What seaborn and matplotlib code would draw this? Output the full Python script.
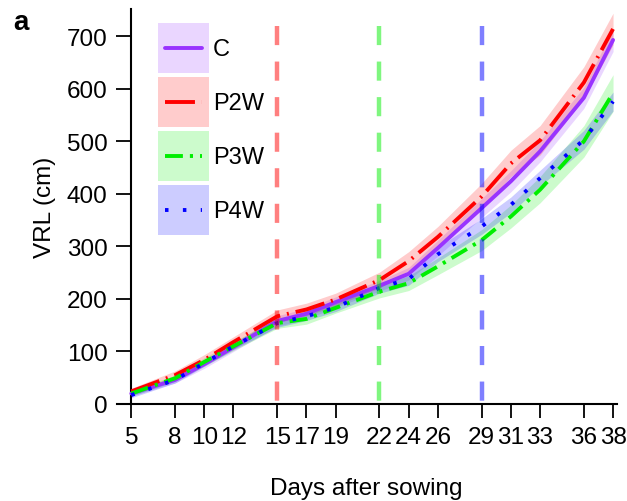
import numpy as np
import pandas as pd
import matplotlib
matplotlib.use("Agg")
import matplotlib.pyplot as plt
from matplotlib.patches import Patch
from matplotlib.lines import Line2D
from matplotlib.legend_handler import HandlerLine2D
import seaborn as sns

# ---------------- data ----------------
days = [5, 8, 10, 12, 15, 17, 19, 22, 24, 26, 29, 31, 33, 36, 38]
vrl_C = [20, 46, 76, 108, 158, 172, 194, 225, 248, 297, 373, 424, 481, 583, 693]
vrl_P2W = [24, 55, 84, 118, 167, 180, 199, 236, 272, 318, 395, 458, 502, 612, 714]
vrl_P3W = [20, 49, 80, 110, 154, 162, 183, 214, 230, 262, 312, 357, 408, 500, 592]
vrl_P4W = [17, 46, 78, 110, 154, 167, 184, 221, 238, 285, 338, 379, 430, 503, 576]

err_C = [5, 6, 8, 8, 10, 10, 10, 10, 12, 15, 18, 20, 20, 20, 22]
err_P2W = [6, 8, 10, 10, 12, 12, 12, 15, 18, 20, 25, 25, 28, 30, 30]
err_P3W = [5, 6, 8, 8, 10, 10, 10, 12, 14, 16, 20, 22, 25, 30, 35]
err_P4W = [5, 6, 6, 6, 8, 8, 8, 10, 12, 14, 15, 15, 15, 18, 18]

treatments = ["C", "P2W", "P3W", "P4W"]
xticks = [5, 8, 10, 12, 15, 17, 19, 22, 24, 26, 29, 31, 33, 36, 38]
yticks = [0, 100, 200, 300, 400, 500, 600, 700]
event_days = [15, 22, 29]

colors = {"C": "#9933FF", "P2W": "#FF0000", "P3W": "#00EE00", "P4W": "#0000FF"}
event_colors = ["#FF0000", "#00EE00", "#0000FF"]
dash_map = {"C": "", "P2W": (7.7, 1.8, 0.5, 1.8), "P3W": (4.6, 1.8, 0.8, 1.8),
            "P4W": (0.9, 3.7)}

values = {"C": vrl_C, "P2W": vrl_P2W, "P3W": vrl_P3W, "P4W": vrl_P4W}
errors = {"C": err_C, "P2W": err_P2W, "P3W": err_P3W, "P4W": err_P4W}

rows = []
for t in treatments:
    for d, v in zip(days, values[t]):
        rows.append({"day": d, "VRL": v, "treatment": t})
df = pd.DataFrame(rows)

# ---------------- style ----------------
sns.set_style("ticks")
plt.rcParams["font.family"] = ["Liberation Sans", "DejaVu Sans"]
plt.rcParams["axes.linewidth"] = 1.5
for k in ["text.color", "axes.labelcolor", "xtick.color", "ytick.color", "axes.edgecolor"]:
    plt.rcParams[k] = "black"

fig = plt.figure(figsize=(6.27, 5.02), dpi=100)
ax = fig.add_axes([116.7 / 627, 1 - 405 / 502, 500 / 627, 395 / 502])

LW = 2.8
FS = 17.5
# bands
for t in treatments:
    v = np.array(values[t], dtype=float)
    e = np.array(errors[t], dtype=float)
    ax.fill_between(days, v - e, v + e, color=colors[t], alpha=0.2, lw=0, zorder=1)

sns.lineplot(data=df, x="day", y="VRL", hue="treatment", style="treatment",
             palette=colors, dashes=dash_map, hue_order=treatments,
             style_order=treatments, errorbar=None, linewidth=LW,
             legend=False, ax=ax, zorder=3)

# event vertical lines
for d, c in zip(event_days, event_colors):
    ax.vlines(d, 720, 0, colors=c, alpha=0.5, linewidth=3.2,
              linestyles=(0, (4.3, 3.7)), zorder=4)

ax.set_xlim(4.0, 38.25)
ax.set_ylim(0, 752)
ax.spines["left"].set_position(("data", 5))
ax.spines["right"].set_visible(False)
ax.spines["top"].set_visible(False)
ax.set_xticks(xticks)
ax.set_xticklabels([str(x) for x in xticks])
ax.set_yticks(yticks)
ax.tick_params(axis="x", direction="out", length=10, width=1.3, labelsize=FS, pad=6)
ax.tick_params(axis="y", direction="out", length=11, width=1.3, labelsize=FS, pad=6)
ax.set_xlabel("Days after sowing", fontsize=FS, labelpad=21)
ax.set_ylabel("VRL (cm)", fontsize=FS, labelpad=8)


# legend
class CenteredLine(HandlerLine2D):
    def create_artists(self, legend, orig_handle, xdescent, ydescent,
                       width, height, fontsize, trans):
        arts = super().create_artists(legend, orig_handle, xdescent, ydescent,
                                      width, height, fontsize, trans)
        yc = height / 2 - ydescent
        for a in arts:
            a.set_ydata(np.full_like(np.asarray(a.get_xdata(), dtype=float), yc))
        return arts


handles = []
for t in treatments:
    p = Patch(facecolor=colors[t], alpha=0.2, edgecolor="none")
    if dash_map[t] == "":
        ln = Line2D([], [], color=colors[t], lw=LW, linestyle="-")
    else:
        ln = Line2D([], [], color=colors[t], lw=LW, dashes=dash_map[t])
    handles.append((p, ln))
LFS = 17
box_h = 36.0 / LFS                      # desired visible box height (font units)
hh = (box_h - 0.245) / 0.65             # matplotlib handleheight giving that box
ax.legend(handles=handles, labels=treatments, loc="upper left",
          bbox_to_anchor=(158.3 / 627, 1 - 24 / 502), bbox_transform=fig.transFigure,
          frameon=False, fontsize=LFS, handlelength=36.7 / LFS, handleheight=hh,
          labelspacing=2.9 / LFS, handletextpad=0.15, borderpad=0, borderaxespad=0,
          numpoints=2, handler_map={Line2D: CenteredLine(numpoints=2)})

fig.text(13 / 627, 1 - 10 / 502, "a", fontsize=20, fontweight="bold", va="top", ha="left")

fig.savefig("out.png", dpi=100)
